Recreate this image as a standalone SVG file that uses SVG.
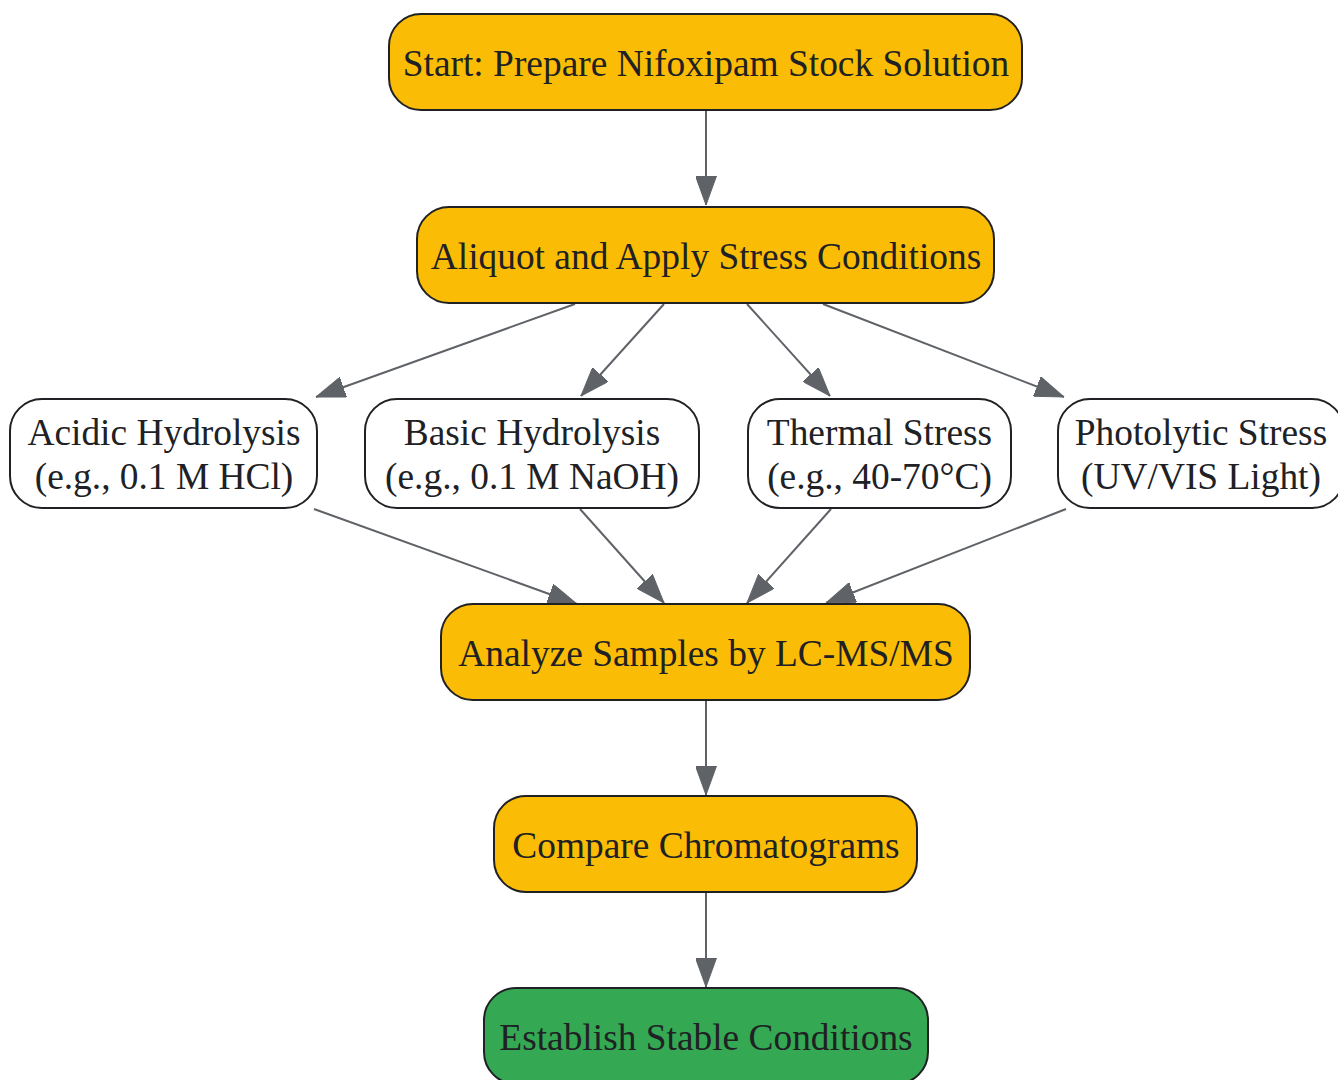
<svg xmlns="http://www.w3.org/2000/svg" width="1338" height="1080" viewBox="0 0 1338 1080">
<defs>
<style>
.n rect{stroke:#202124;stroke-width:2}
.o rect{fill:#fbbc05}
.w rect{fill:#ffffff}
.g rect{fill:#34a853}
text{font-family:"Liberation Serif","Times New Roman",serif;font-size:37.4px;fill:#202124;text-anchor:middle}
#edges path{stroke:#5f6368;stroke-width:2;fill:none;marker-end:url(#ah)}
</style>
<marker id="ah" viewBox="0 0 29 21" refX="29" refY="10.5" markerWidth="29" markerHeight="21" markerUnits="userSpaceOnUse" orient="auto">
<path d="M0,0 L29,10.5 L0,21 Z" fill="#5f6368" stroke="#5f6368" stroke-width="1"/>
</marker>
</defs>
<rect width="1338" height="1080" fill="#ffffff"/>
<g id="edges">
<path d="M706,110 L706,205"/>
<path d="M575,304 L316,397"/>
<path d="M664,304 L581,396"/>
<path d="M747,304 L830,396"/>
<path d="M823,304 L1064,397"/>
<path d="M314,509 L577,604"/>
<path d="M580,509 L664,603"/>
<path d="M831,509 L747,603"/>
<path d="M1066,509 L826,603"/>
<path d="M706,700 L706,795"/>
<path d="M706,892 L706,987"/>
</g>
<g id="start" class="n o"><rect x="389" y="14" width="633" height="96" rx="32"/><text x="706" y="76">Start: Prepare Nifoxipam Stock Solution</text></g>
<g id="aliquot" class="n o"><rect x="417" y="207" width="577" height="96" rx="32"/><text x="706" y="269">Aliquot and Apply Stress Conditions</text></g>
<g id="acidic" class="n w"><rect x="10" y="399" width="307" height="109" rx="32"/><text x="164" y="445">Acidic Hydrolysis</text><text x="164" y="489">(e.g., 0.1 M HCl)</text></g>
<g id="basic" class="n w"><rect x="365" y="399" width="334" height="109" rx="32"/><text x="532" y="445">Basic Hydrolysis</text><text x="532" y="489">(e.g., 0.1 M NaOH)</text></g>
<g id="thermal" class="n w"><rect x="748" y="399" width="263" height="109" rx="32"/><text x="879.5" y="445">Thermal Stress</text><text x="879.5" y="489">(e.g., 40-70°C)</text></g>
<g id="photo" class="n w"><rect x="1058" y="399" width="286" height="109" rx="32"/><text x="1201" y="445">Photolytic Stress</text><text x="1201" y="489">(UV/VIS Light)</text></g>
<g id="analyze" class="n o"><rect x="441" y="604" width="529" height="96" rx="32"/><text x="706" y="666">Analyze Samples by LC-MS/MS</text></g>
<g id="compare" class="n o"><rect x="494" y="796" width="423" height="96" rx="32"/><text x="706" y="858">Compare Chromatograms</text></g>
<g id="establish" class="n g"><rect x="484" y="988" width="444" height="96" rx="32"/><text x="706" y="1050">Establish Stable Conditions</text></g>
</svg>
